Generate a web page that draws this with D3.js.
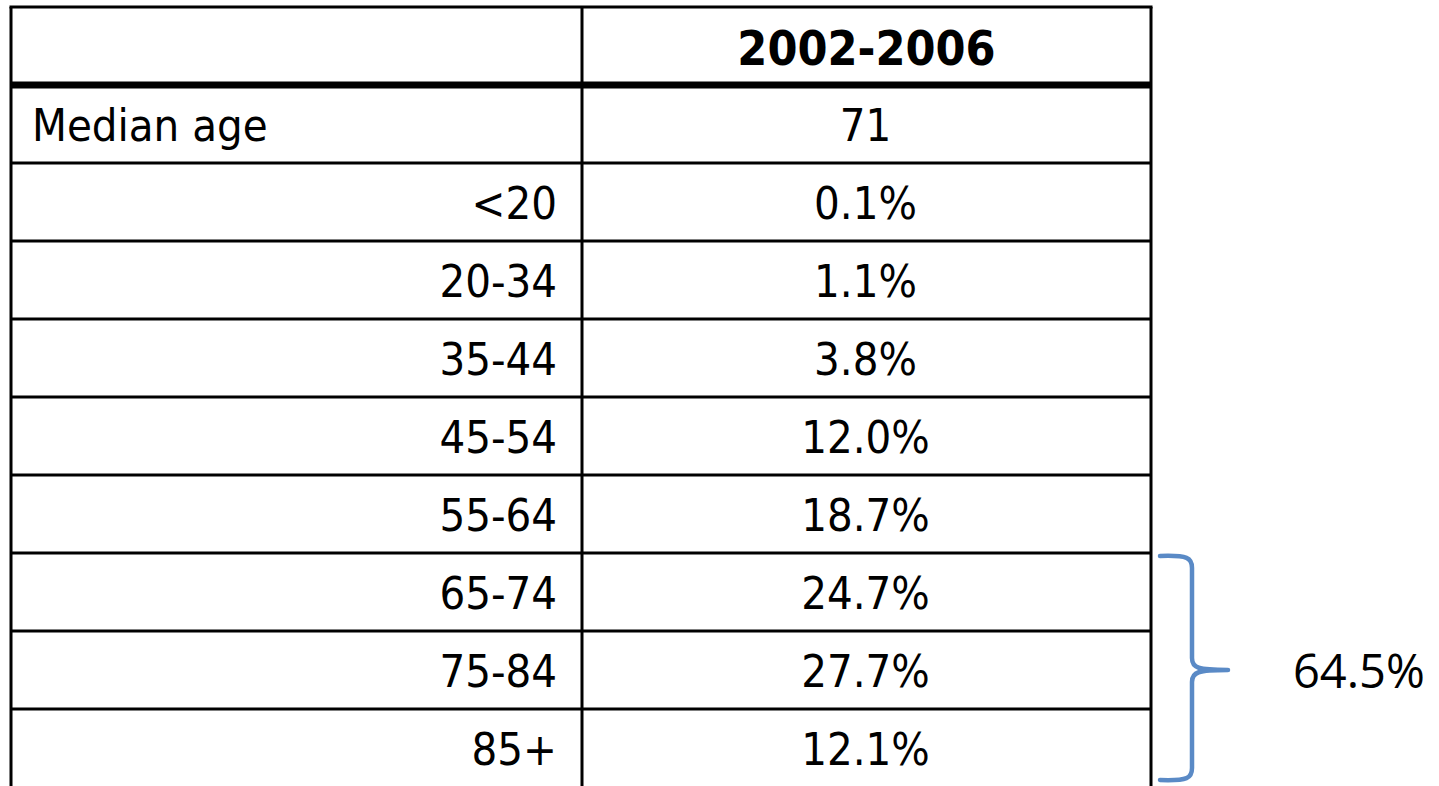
<!DOCTYPE html>
<html>
<head>
<meta charset="utf-8">
<script src="https://cdn.jsdelivr.net/npm/d3@7"></script>
<style>
    html, body { margin: 0; padding: 0; background: #fff; }
    svg { display: block; }
    .cell { font-family: "DejaVu Sans Condensed", "DejaVu Sans", sans-serif; font-stretch: condensed; fill: #000; }
</style>
</head>
<body>
<svg id="chart" width="1439" height="786"></svg>
<script>
// table values
var period = "2002-2006";
var rowTitle = "Median age";
var medianAge = 71;
var ageGroups = ["<20", "20-34", "35-44", "45-54", "55-64", "65-74", "75-84", "85+"];
var shares = [0.1, 1.1, 3.8, 12.0, 18.7, 24.7, 27.7, 12.1];
// groups covered by the bracket on the right
var bracketGroups = ["65-74", "75-84", "85+"];

var svg = d3.select("#chart");

var rowKeys = ["header", "median"].concat(ageGroups);
var y = d3.scaleBand()
    .domain(rowKeys)
    .range([7, 7 + 78 * rowKeys.length]);

var colLeft = 11, colMid = 582, colRight = 1151;
var valueX = (colMid + colRight) / 2;

var grid = svg.append("g").attr("class", "grid");

// horizontal rules between rows
rowKeys.forEach(function (k, i) {
    if (i === 0) {
        return;
    }
    grid.append("line")
        .attr("x1", colLeft).attr("x2", colRight)
        .attr("y1", y(k)).attr("y2", y(k))
        .attr("stroke", "#000")
        .attr("stroke-width", k === "median" ? 7 : 3);
});
// top border
grid.append("line")
    .attr("x1", colLeft - 1.5).attr("x2", colRight + 1.5)
    .attr("y1", y("header")).attr("y2", y("header"))
    .attr("stroke", "#000").attr("stroke-width", 3);
// verticals, running off the bottom of the picture
[colLeft, colMid, colRight].forEach(function (x) {
    grid.append("line")
        .attr("x1", x).attr("x2", x)
        .attr("y1", y("header")).attr("y2", 800)
        .attr("stroke", "#000").attr("stroke-width", 3);
});

var mid = function (k) { return y(k) + y.bandwidth() / 2; };

// header
svg.append("text")
    .attr("class", "cell")
    .attr("x", valueX)
    .attr("y", mid("header") + 19)
    .attr("text-anchor", "middle")
    .style("font-size", "48px")
    .style("font-weight", "bold")
    .text(period);

// median age row
svg.append("text")
    .attr("class", "cell")
    .attr("x", 32)
    .attr("y", mid("median") + 17)
    .style("font-size", "45px")
    .text(rowTitle);
svg.append("text")
    .attr("class", "cell")
    .attr("x", valueX - 1)
    .attr("y", mid("median") + 17)
    .attr("text-anchor", "middle")
    .style("font-size", "45px")
    .text(medianAge);

// age group rows
var rows = svg.append("g").selectAll("g")
    .data(ageGroups)
    .join("g");
rows.append("text")
    .attr("class", "cell")
    .attr("x", 557)
    .attr("y", function (d) { return mid(d) + 17; })
    .attr("text-anchor", "end")
    .style("font-size", "45px")
    .text(function (d) { return d; });
rows.append("text")
    .attr("class", "cell")
    .attr("x", valueX - 1)
    .attr("y", function (d) { return mid(d) + 17; })
    .attr("text-anchor", "middle")
    .style("font-size", "45px")
    .text(function (d, i) { return shares[i].toFixed(1) + "%"; });

// bracket
var braceTop = y(bracketGroups[0]) + 3;
var braceBottom = y(bracketGroups[bracketGroups.length - 1]) + y.bandwidth() - 7;
var tipY = mid(bracketGroups[1]);
var bx0 = 1160, bx1 = 1192, bx2 = 1228;
var p = d3.path();
p.moveTo(bx0, braceTop);
p.bezierCurveTo(bx1 - 4, braceTop - 1, bx1, braceTop + 2, bx1, braceTop + 12);
p.lineTo(bx1, tipY - 12);
p.bezierCurveTo(bx1, tipY - 2, bx1 + 6, tipY, bx2, tipY);
p.moveTo(bx2, tipY);
p.bezierCurveTo(bx1 + 6, tipY, bx1, tipY + 2, bx1, tipY + 12);
p.lineTo(bx1, braceBottom - 12);
p.bezierCurveTo(bx1, braceBottom - 2, bx1 - 4, braceBottom + 1, bx0, braceBottom);
svg.append("path")
    .attr("d", p.toString())
    .attr("fill", "none")
    .attr("stroke", "#5a8ac6")
    .attr("stroke-width", 4.5)
    .attr("stroke-linecap", "round");

var total = d3.sum(bracketGroups, function (g) { return shares[ageGroups.indexOf(g)]; });
svg.append("text")
    .attr("x", 1293)
    .attr("y", tipY + 18)
    .style("font-family", "'Open Sans', sans-serif")
    .style("font-size", "47px")
    .attr("fill", "#000")
    .text(total.toFixed(1) + "%");
</script>
</body>
</html>
